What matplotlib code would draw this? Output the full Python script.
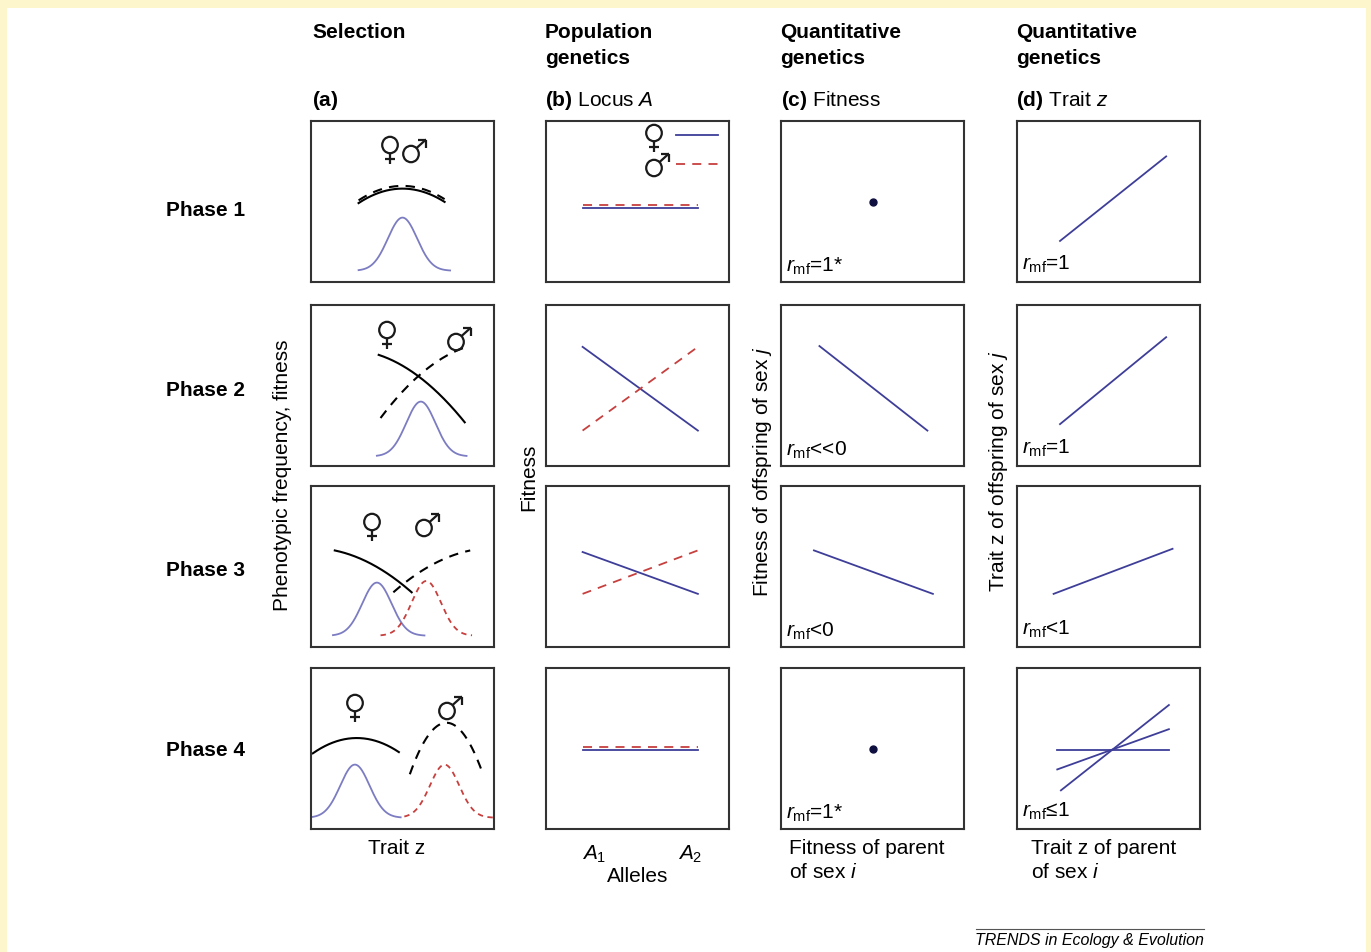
import matplotlib
matplotlib.use("Agg")
import matplotlib.pyplot as plt
import numpy as np
from matplotlib.patches import Rectangle, Ellipse
from matplotlib.lines import Line2D

plt.rcParams["font.family"] = ["Liberation Sans", "DejaVu Sans"]
plt.rcParams["mathtext.fontset"] = "custom"
plt.rcParams["mathtext.rm"] = "Liberation Sans"
plt.rcParams["mathtext.it"] = "Liberation Sans:italic"
plt.rcParams["mathtext.bf"] = "Liberation Sans:bold"

W, H = 1371, 952

phases = ["Phase 1", "Phase 2", "Phase 3", "Phase 4"]

# (a) selection: trait distributions (mean, sd, peak, base, x from, x to); None = same as female
fem_dist = [(0.50, 0.08, 0.40, 0.07, 0.26, 0.76),
            (0.60, 0.08, 0.40, 0.06, 0.36, 0.85),
            (0.36, 0.08, 0.40, 0.07, 0.12, 0.62),
            (0.24, 0.08, 0.40, 0.07, 0.00, 0.49)]
male_dist = [None, None,
             (0.63, 0.08, 0.41, 0.07, 0.38, 0.88),
             (0.73, 0.08, 0.40, 0.07, 0.51, 1.00)]
# fitness arcs (x from, x to, vertex x, vertex y, curvature)
fem_fit = [(0.26, 0.73, 0.50, 0.580, 1.56),
           (0.37, 0.84, 0.20, 0.722, 1.10),
           (0.13, 0.55, 0.00, 0.615, 0.91),
           (0.01, 0.48, 0.25, 0.565, 1.65)]
male_fit = [(0.26, 0.73, 0.50, 0.597, 1.56),
            (0.38, 0.85, 1.00, 0.767, 1.22),
            (0.45, 0.87, 1.00, 0.615, 0.91),
            (0.54, 0.93, 0.74, 0.660, 8.00)]

# (b) locus A: fitness of A1 and A2
allele_x = [0.20, 0.83]
fem_allele = [(0.46, 0.46), (0.74, 0.22), (0.59, 0.33), (0.49, 0.49)]
male_allele = [(0.48, 0.48), (0.22, 0.74), (0.33, 0.60), (0.51, 0.51)]

# (c) fitness: parent vs offspring (None = single point)
fit_lines = [None, ((0.21, 0.80), (0.745, 0.22)), ((0.18, 0.83), (0.60, 0.33)), None]
fit_point = (0.50, 0.50)
fit_rmf = ["=1*", "<<0", "<0", "=1*"]

# (d) trait z: parent vs offspring
trait_lines = [[((0.235, 0.815), (0.255, 0.78))],
               [((0.235, 0.815), (0.26, 0.80))],
               [((0.20, 0.85), (0.33, 0.61))],
               [((0.22, 0.83), (0.49, 0.49)), ((0.22, 0.83), (0.37, 0.62)),
                ((0.24, 0.83), (0.24, 0.77))]]
trait_rmf = ["=1", "=1", "<1", "\u22641"]

GAUSS_BLUE = "#7c7cc2"
LINE_BLUE = "#3e3e99"
RED = "#c6403e"
FRAME = "#333333"
SIGN = "#1a1a1a"

col_left = [311, 546, 781, 1017]
row_top = [121, 305, 486, 668]
PW, PH = 183, 161


def fx(x):
    return x / W


def fy(y):
    return 1 - y / H


def panel(c, r):
    ax = fig.add_axes([fx(col_left[c]), fy(row_top[r] + PH), PW / W, PH / H])
    ax.set_xlim(0, 1); ax.set_ylim(0, 1)
    ax.set_xticks([]); ax.set_yticks([])
    ax.set_facecolor("white")
    for s in ax.spines.values():
        s.set_linewidth(1.5); s.set_color(FRAME)
    return ax


def gauss(ax, d, **kw):
    m, sd, pk, base, x0, x1 = d
    x = np.linspace(x0, x1, 200)
    ax.plot(x, base + (pk - base) * np.exp(-0.5 * ((x - m) / sd) ** 2), **kw)


def arc(ax, a, **kw):
    x0, x1, xv, yv, b = a
    x = np.linspace(x0, x1, 200)
    ax.plot(x, yv - b * (x - xv) ** 2, **kw)


def seg(x0, y0, x1, y1):
    fig.add_artist(Line2D([fx(x0), fx(x1)], [fy(y0), fy(y1)], color=SIGN, lw=1.6,
                          solid_capstyle="butt", zorder=5))


def ring(cx, cy, r=7.8):
    fig.add_artist(Ellipse((fx(cx), fy(cy)), 2 * r / W, 2.1 * r / H, transform=fig.transFigure,
                           fill=False, edgecolor=SIGN, lw=1.6, zorder=5))


def female(cx, cy):
    # venus sign, circle centre in pixels
    ring(cx, cy)
    seg(cx, cy + 8.2, cx, cy + 19)
    seg(cx - 5, cy + 13.5, cx + 5, cy + 13.5)


def male(cx, cy):
    ring(cx, cy)
    tx, ty = cx + 15, cy - 14.5
    seg(cx + 5.5, cy - 5.9, tx, ty)
    seg(tx - 8, ty, tx, ty)
    seg(tx, ty, tx, ty + 8)


fig = plt.figure(figsize=(W / 100, H / 100), dpi=100, facecolor="#fdf5cb")
fig.patches.append(Rectangle((fx(7), 0), fx(1366) - fx(7), fy(8), transform=fig.transFigure,
                             facecolor="white", edgecolor="none", zorder=-5))

for r in range(4):
    # column a
    ax = panel(0, r)
    gauss(ax, fem_dist[r], color=GAUSS_BLUE, lw=1.3)
    if male_dist[r] is not None:
        gauss(ax, male_dist[r], color=RED, lw=1.3, ls=(0, (3, 2.5)))
    arc(ax, fem_fit[r], color="black", lw=1.5)
    arc(ax, male_fit[r], color="black", lw=1.5, ls=(0, (4.5, 3.5)))

    # column b
    ax = panel(1, r)
    ax.plot(allele_x, fem_allele[r], color=LINE_BLUE, lw=1.3)
    ax.plot(allele_x, male_allele[r], color=RED, lw=1.3, ls=(0, (5, 4)))
    if r == 0:
        ax.add_line(Line2D([0.71, 0.94], [0.91, 0.91], color=LINE_BLUE, lw=1.3))
        ax.add_line(Line2D([0.71, 0.94], [0.73, 0.73], color=RED, lw=1.3, ls=(0, (5, 4))))

    # column c
    ax = panel(2, r)
    if fit_lines[r] is None:
        ax.plot(*fit_point, "o", color="#101040", ms=5)
    else:
        ax.plot(*fit_lines[r], color=LINE_BLUE, lw=1.3)
    ax.text(0.03, 0.10, r"$r_{\mathrm{mf}}$" + fit_rmf[r], fontsize=15, va="center")

    # column d
    ax = panel(3, r)
    for xs, ys in trait_lines[r]:
        ax.plot(xs, ys, color=LINE_BLUE, lw=1.3)
    ax.text(0.03, 0.11, r"$r_{\mathrm{mf}}$" + trait_rmf[r], fontsize=15, va="center")

    fig.text(fx(166), fy([210, 390, 571, 751][r]), phases[r], fontsize=15,
             fontweight="bold", va="center")

# sex signs (pixel positions of the circle centres)
for cx, cy in [(390, 145), (387, 330), (372, 522), (355, 703), (654, 133)]:
    female(cx, cy)
for cx, cy in [(411, 154), (456, 342), (424, 528), (447, 711), (654, 168)]:
    male(cx, cy)

FS = 15
# column headings
fig.text(fx(312), fy(33), "Selection", fontsize=FS, fontweight="bold", va="center")
for x, t in zip(col_left[1:], ["Population", "Quantitative", "Quantitative"]):
    fig.text(fx(x - 1), fy(33), t, fontsize=FS, fontweight="bold", va="center")
    fig.text(fx(x - 1), fy(58), "genetics", fontsize=FS, fontweight="bold", va="center")
fig.text(fx(312), fy(100), r"$\mathbf{(a)}$", fontsize=FS, va="center")
fig.text(fx(545), fy(100), r"$\mathbf{(b)}$ Locus $A$", fontsize=FS, va="center")
fig.text(fx(781), fy(100), r"$\mathbf{(c)}$ Fitness", fontsize=FS, va="center")
fig.text(fx(1016), fy(100), r"$\mathbf{(d)}$ Trait $z$", fontsize=FS, va="center")

# axis labels
fig.text(fx(283), fy(475), "Phenotypic frequency, fitness", fontsize=FS, rotation=90,
         ha="center", va="center")
fig.text(fx(529), fy(477), "Fitness", fontsize=FS, rotation=90, ha="center", va="center")
fig.text(fx(763), fy(472), r"Fitness of offspring of sex $j$", fontsize=FS, rotation=90,
         ha="center", va="center")
fig.text(fx(999), fy(471), r"Trait z of offspring of sex $j$", fontsize=FS, rotation=90,
         ha="center", va="center")

fig.text(fx(397), fy(848), "Trait z", fontsize=FS, ha="center", va="center")
fig.text(fx(594), fy(854), r"$A_1$", fontsize=FS, ha="center", va="center")
fig.text(fx(690), fy(854), r"$A_2$", fontsize=FS, ha="center", va="center")
fig.text(fx(638), fy(877), "Alleles", fontsize=FS, ha="center", va="center")
fig.text(fx(789), fy(848), "Fitness of parent", fontsize=FS, va="center")
fig.text(fx(789), fy(873), r"of sex $i$", fontsize=FS, va="center")
fig.text(fx(1031), fy(848), "Trait z of parent", fontsize=FS, va="center")
fig.text(fx(1031), fy(873), r"of sex $i$", fontsize=FS, va="center")

# footer
fig.add_artist(Line2D([fx(976), fx(1204)], [fy(929), fy(929)], color="#555555", lw=0.8))
fig.text(fx(1204), fy(941), "TRENDS in Ecology & Evolution", fontsize=11.5, style="italic",
         ha="right", va="center")

fig.savefig("out.png", dpi=100, facecolor=fig.get_facecolor())
